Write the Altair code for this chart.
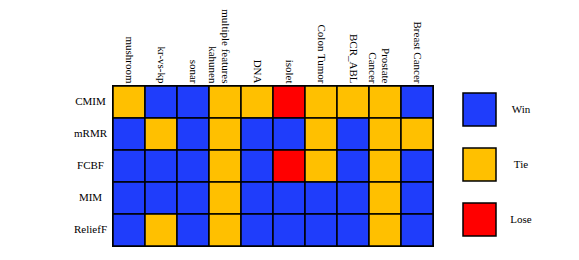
import altair as alt
import pandas as pd

datasets = ["mushroom", "kr-vs-kp", "sonar", "multiple features|kahunen", "DNA",
            "isolet", "Colon Tumor", "BCR_ABL", "Prostate|Cancer", "Breast Cancer"]
methods = ["CMIM", "mRMR", "FCBF", "MIM", "ReliefF"]
outcome_cmim = ["Tie", "Win", "Win", "Tie", "Tie", "Lose", "Tie", "Tie", "Tie", "Win"]
outcome_mrmr = ["Win", "Tie", "Win", "Tie", "Win", "Win", "Tie", "Win", "Tie", "Tie"]
outcome_fcbf = ["Win", "Win", "Win", "Tie", "Win", "Lose", "Tie", "Win", "Tie", "Win"]
outcome_mim = ["Win", "Win", "Win", "Tie", "Win", "Win", "Win", "Win", "Tie", "Win"]
outcome_relieff = ["Win", "Tie", "Win", "Tie", "Win", "Win", "Win", "Win", "Tie", "Win"]
categories = ["Win", "Tie", "Lose"]
palette = ["#1f3dfb", "#ffc000", "#ff0000"]

rows = []
for m, outs in zip(methods, [outcome_cmim, outcome_mrmr, outcome_fcbf, outcome_mim, outcome_relieff]):
    for d, o in zip(datasets, outs):
        rows.append({"method": m, "dataset": d, "result": o})
df = pd.DataFrame(rows)

FONT = "Liberation Serif"

chart = alt.Chart(df).mark_rect(stroke="black", strokeWidth=1.5).encode(
    x=alt.X("dataset:N", sort=datasets, title=None,
            scale=alt.Scale(paddingInner=0, paddingOuter=0),
            axis=alt.Axis(orient="top", labelAngle=90, labelAlign="right",
                          labelBaseline="middle", labelPadding=3, ticks=False,
                          tickSize=0, domain=False, labelFont=FONT, labelFontSize=11,
                          labelFontWeight="normal",
                          labelColor="black", labelLineHeight=13,
                          labelExpr="split(datum.label, '|')")),
    y=alt.Y("method:N", sort=methods, title=None,
            scale=alt.Scale(paddingInner=0, paddingOuter=0),
            axis=alt.Axis(labelAlign="center", labelPadding=23, ticks=False,
                          tickSize=0, domain=False, labelFont=FONT, labelFontSize=11,
                          labelFontWeight="normal", labelColor="black")),
    color=alt.Color("result:N", scale=alt.Scale(domain=categories, range=palette),
                    legend=alt.Legend(title=None, orient="none", legendX=349, legendY=6,
                                      symbolType="square", symbolSize=1089,
                                      symbolStrokeColor="black", symbolStrokeWidth=1.5,
                                      symbolOpacity=1, rowPadding=16, padding=0,
                                      labelFont=FONT, labelFontSize=11, labelColor="black",
                                      labelFontWeight="normal",
                                      labelAlign="center", labelOffset=24)),
).properties(
    width=320, height=160, autosize="none",
    padding={"left": 105, "top": 78, "right": 138, "bottom": 6},
).configure_view(stroke="black", strokeWidth=2)

chart.save("out.html", embed_options={"renderer": "svg", "actions": False})
